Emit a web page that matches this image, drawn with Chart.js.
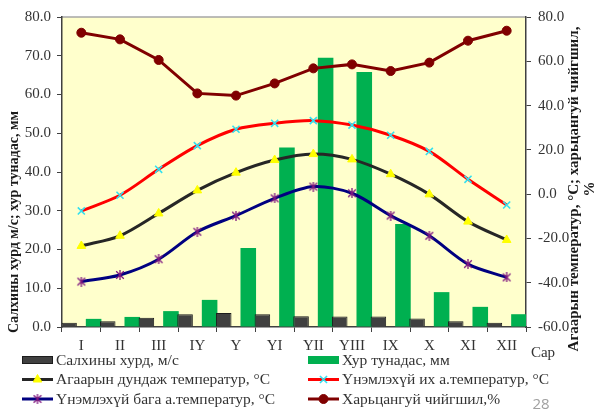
<!DOCTYPE html>
<html>
<head>
<meta charset="utf-8">
<style>
  html, body { margin: 0; padding: 0; background: #ffffff; }
  #wrap { width: 596px; height: 411px; position: relative; }
  canvas { display: block; }
</style>
<script src="https://cdn.jsdelivr.net/npm/chart.js@4.4.1/dist/chart.umd.min.js"></script>
</head>
<body>
<div id="wrap"><canvas id="c" width="596" height="411"></canvas></div>
<script>
// Monthly climate data
const months = ['I', 'II', 'III', 'IY', 'Y', 'YI', 'YII', 'YIII', 'IX', 'X', 'XI', 'XII'];
const windSpeed = [1.1, 1.5, 2.4, 3.3, 3.6, 3.3, 2.8, 2.7, 2.7, 2.2, 1.5, 1.1];
const precipitation = [2.1, 2.6, 4.1, 7.0, 20.4, 46.3, 69.5, 65.8, 26.6, 9.0, 5.2, 3.3];
const meanTemp = [-23.4, -18.8, -8.7, 1.7, 9.7, 15.4, 18.1, 15.7, 9.0, -0.1, -12.4, -20.7];
const maxTemp = [-7.6, -0.5, 11.2, 21.9, 29.3, 32.0, 33.2, 31.2, 26.6, 19.3, 6.7, -4.9];
const minTemp = [-39.5, -36.5, -29.4, -17.0, -9.7, -1.9, 3.4, 0.4, -9.7, -18.8, -31.6, -37.6];
const humidity = [72.9, 69.9, 60.6, 45.5, 44.5, 50.0, 56.8, 58.6, 55.6, 59.4, 69.3, 73.8];

const seriesNames = [
  'Салхины хурд, м/с',
  'Хур тунадас, мм',
  'Агаарын дундаж температур, °C',
  'Үнэмлэхүй их а.температур, °C',
  'Үнэмлэхүй бага а.температур, °C',
  'Харьцангуй чийгшил,%'
];
const leftTitle = 'Салхины хурд м/с; хур тунадас, мм';
const rightTitle = ['Агаарын температур, °С; харьцангуй чийгшил,', '%'];
const xTitle = 'Сар';
const pageNumber = '28';

const SERIF = '"Liberation Serif", "Times New Roman", serif';
const TEXT = '#333333';
const AXIS = '#404040';

// Asterisk-shaped marker (cross plus vertical stroke)
function asteriskMarker(color) {
  const c = document.createElement('canvas');
  c.width = 10; c.height = 10;
  const g = c.getContext('2d');
  g.strokeStyle = color;
  g.lineWidth = 1.3;
  g.beginPath();
  g.moveTo(1.2, 1.2); g.lineTo(8.8, 8.8);
  g.moveTo(8.8, 1.2); g.lineTo(1.2, 8.8);
  g.moveTo(5, 0); g.lineTo(5, 10);
  g.stroke();
  return c;
}
const starMarker = asteriskMarker('#7F177F');

const barShape = { categoryPercentage: 1.27, barPercentage: 0.634, clip: 0 };

const decor = {
  id: 'decor',
  beforeDraw(chart) {
    const { ctx, chartArea: a } = chart;
    ctx.save();
    ctx.fillStyle = '#FFFFCC';
    ctx.fillRect(a.left, a.top, a.right - a.left, a.bottom - a.top);
    ctx.strokeStyle = '#A6A6A6';
    ctx.lineWidth = 1.5;
    ctx.beginPath();
    ctx.moveTo(a.left, a.top);
    ctx.lineTo(a.right, a.top);
    ctx.stroke();
    ctx.restore();
  },
  afterDraw(chart) {
    const { ctx } = chart;
    ctx.save();
    ctx.textBaseline = 'middle';

    // axis titles
    ctx.fillStyle = '#1a1a1a';
    ctx.textAlign = 'center';
    ctx.font = 'bold 14px ' + SERIF;
    ctx.save();
    ctx.translate(14, 222);
    ctx.rotate(-Math.PI / 2);
    ctx.fillText(leftTitle, 0, 0);
    ctx.restore();

    ctx.font = 'bold 15px ' + SERIF;
    ctx.save();
    ctx.translate(574, 189);
    ctx.rotate(-Math.PI / 2);
    ctx.fillText(rightTitle[0], 0, 0);
    ctx.fillText(rightTitle[1], 0, 16);
    ctx.restore();

    ctx.fillStyle = TEXT;
    ctx.font = '15px ' + SERIF;
    ctx.fillText(xTitle, 543, 353);

    ctx.fillStyle = '#A0A0A0';
    ctx.font = '15px "Open Sans", "Liberation Sans", sans-serif';
    ctx.fillText(pageNumber, 541, 405);

    // legend, two columns
    const cols = [22, 308];
    const rows = [360, 379.5, 399];
    chart.data.datasets.forEach((ds, i) => {
      const x = cols[i % 2];
      const y = rows[Math.floor(i / 2)];
      if (ds.type === 'bar') {
        ctx.fillStyle = ds.backgroundColor;
        ctx.fillRect(x, y - 4, 31, 8);
        if (ds.borderWidth) {
          ctx.strokeStyle = ds.borderColor;
          ctx.lineWidth = 1;
          ctx.strokeRect(x + 0.5, y - 3.5, 30, 7);
        }
      } else {
        ctx.strokeStyle = ds.borderColor;
        ctx.lineWidth = 3;
        ctx.beginPath();
        ctx.moveTo(x, y);
        ctx.lineTo(x + 31, y);
        ctx.stroke();
        const style = ds.pointStyle;
        if (style instanceof HTMLCanvasElement) {
          ctx.drawImage(style, x + 15.5 - style.width / 2, y - style.height / 2);
        } else {
          ctx.fillStyle = ds.pointBackgroundColor;
          ctx.strokeStyle = ds.pointBorderColor;
          ctx.lineWidth = ds.pointBorderWidth;
          Chart.helpers.drawPoint(ctx, {
            pointStyle: style, rotation: 0,
            radius: ds.pointRadius, borderWidth: ds.pointBorderWidth
          }, x + 15.5, y);
        }
      }
      ctx.fillStyle = TEXT;
      ctx.textAlign = 'left';
      ctx.font = '15.5px ' + SERIF;
      ctx.fillText(ds.label, x + 34, y + 0.5);
    });
    ctx.restore();
  }
};

const tickFont = { family: SERIF, size: 15 };
const oneDecimal = v => Number(v).toFixed(1);

new Chart(document.getElementById('c'), {
  type: 'bar',
  data: {
    labels: months,
    datasets: [
      Object.assign({
        type: 'bar', label: seriesNames[0], data: windSpeed, yAxisID: 'y',
        backgroundColor: '#404040', borderColor: '#1c1c1c', borderWidth: 1, order: 2
      }, barShape),
      Object.assign({
        type: 'bar', label: seriesNames[1], data: precipitation, yAxisID: 'y',
        backgroundColor: '#00B050', borderWidth: 0, order: 2
      }, barShape),
      {
        type: 'line', label: seriesNames[2], data: meanTemp, yAxisID: 'y2',
        borderColor: '#262626', borderWidth: 3, tension: 0.3,
        pointStyle: 'triangle', pointRadius: 5, pointBorderWidth: 1,
        pointBackgroundColor: '#FFFF00', pointBorderColor: '#FFFF00', order: 1
      },
      {
        type: 'line', label: seriesNames[3], data: maxTemp, yAxisID: 'y2',
        borderColor: '#FF0000', borderWidth: 3, tension: 0.3,
        pointStyle: 'crossRot', pointRadius: 5, pointBorderWidth: 1.6,
        pointBackgroundColor: '#33E0F0', pointBorderColor: '#33E0F0', order: 1
      },
      {
        type: 'line', label: seriesNames[4], data: minTemp, yAxisID: 'y2',
        borderColor: '#000080', borderWidth: 3, tension: 0.3,
        pointStyle: starMarker, pointRadius: 5, order: 1
      },
      {
        type: 'line', label: seriesNames[5], data: humidity, yAxisID: 'y2',
        borderColor: '#800000', borderWidth: 3, tension: 0,
        pointStyle: 'circle', pointRadius: 4.5, pointBorderWidth: 1,
        pointBackgroundColor: '#800000', pointBorderColor: '#800000', order: 1
      }
    ]
  },
  options: {
    responsive: false,
    animation: false,
    devicePixelRatio: 1,
    layout: { padding: { top: 17, left: 0, right: 0, bottom: 0 } },
    plugins: { legend: { display: false }, tooltip: { enabled: false } },
    scales: {
      x: {
        offset: true,
        grid: { display: true, offset: true, drawOnChartArea: false, drawTicks: true, tickLength: 5, color: AXIS, lineWidth: 1 },
        border: { display: true, color: AXIS, width: 1.5 },
        ticks: { font: tickFont, color: TEXT, padding: 5, maxRotation: 0, autoSkip: false },
        afterFit(s) { s.height = 84; }
      },
      y: {
        position: 'left', min: 0, max: 80,
        grid: { display: true, drawOnChartArea: false, drawTicks: true, tickLength: 5, color: AXIS },
        border: { display: true, color: AXIS, width: 1.5 },
        ticks: { stepSize: 10, font: tickFont, color: TEXT, padding: 6, callback: oneDecimal },
        afterFit(s) { s.width = 62; }
      },
      y2: {
        position: 'right', min: -60, max: 80,
        grid: { display: true, drawOnChartArea: false, drawTicks: true, tickLength: 5, color: AXIS },
        border: { display: true, color: AXIS, width: 1.5 },
        ticks: { stepSize: 20, font: tickFont, color: TEXT, padding: 7, callback: oneDecimal },
        afterFit(s) { s.width = 70; }
      }
    }
  },
  plugins: [decor]
});
</script>
</body>
</html>
